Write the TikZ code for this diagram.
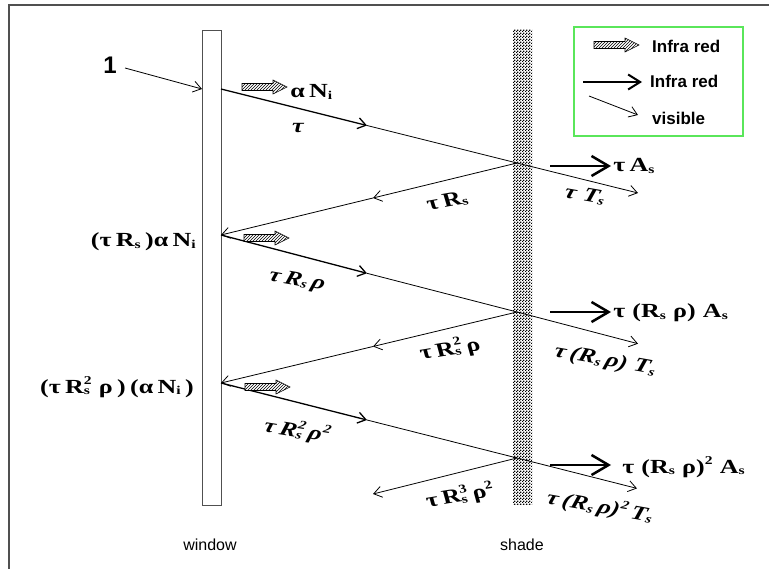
\documentclass[tikz,border=0pt]{standalone}
\usepackage{fontspec}
\setmainfont{Liberation Serif}
\newfontfamily\sansf{Liberation Sans}
\usetikzlibrary{arrows.meta,patterns}
\newcommand\sbsp[2]{\rlap{\raisebox{-1.5pt}{\fontsize{12}{12}\selectfont #1}}\raisebox{8.5pt}{\fontsize{12}{12}\selectfont #2}}
\newcommand\sbonly[1]{\raisebox{-1.5pt}{\fontsize{12}{12}\selectfont #1}}
\newcommand\sponly[1]{\raisebox{8.5pt}{\fontsize{12}{12}\selectfont #1}}
\pgfdeclarepatternformonly{finecheck}{\pgfpointorigin}{\pgfqpoint{3pt}{3pt}}{\pgfqpoint{3pt}{3pt}}{%
  \pgfpathrectangle{\pgfpointorigin}{\pgfqpoint{1.5pt}{1.5pt}}%
  \pgfpathrectangle{\pgfqpoint{1.5pt}{1.5pt}}{\pgfqpoint{1.5pt}{1.5pt}}%
  \pgfusepath{fill}}
\definecolor{legendgreen}{RGB}{90,230,90}
\definecolor{framegray}{RGB}{80,80,80}
\tikzset{
  lab/.style={font=\fontsize{20}{22}\selectfont\bfseries, inner sep=0pt, xscale=1.3},
  ilab/.style={font=\fontsize{20}{22}\selectfont\bfseries\itshape, inner sep=0pt, xscale=1.3},
  sanslab/.style={font=\sansf\fontsize{17}{19}\selectfont\bfseries, inner sep=0pt},
  caption/.style={font=\sansf\fontsize{16}{18}\selectfont, inner sep=0pt},
  ray/.style={line width=0.8pt, -{Straight Barb[length=8pt,width=11pt]}},
  rayb/.style={ray, line width=1.3pt},
  irarrow/.style={line width=2.5pt, -{Straight Barb[length=17pt,width=20pt]}},
  hatcharrow/.pic={
    \fill[white] (0,-3.5)--(31,-3.5)--(31,-7)--(45,0)--(31,7)--(31,3.5)--(0,3.5)--cycle;
    \draw[pattern=north east lines, line width=0.6pt] (0,-3.5)--(31,-3.5)--(31,-7)--(45,0)--(31,7)--(31,3.5)--(0,3.5)--cycle;
  }
}
\begin{document}
\begin{tikzpicture}[x=1pt,y=-1pt]
\useasboundingbox (0,0) rectangle (769,569);
% frame
\draw[framegray, line width=1.5pt] (9,569)--(9,5)--(769,5);
% window and shade
\draw[framegray, line width=1pt, fill=white] (202,31) rectangle (221,505);
\fill[pattern=finecheck] (513,30) rectangle (532,504);
% coordinates
\coordinate (p0) at (125,68);
\coordinate (w1) at (202,89);
\coordinate (a2) at (221,89);
\coordinate (m2) at (367,125.5);
\coordinate (s2) at (517,163);
\coordinate (e2) at (638,193);
\coordinate (r2) at (373,198);
\coordinate (a3) at (221,235);
\coordinate (m3) at (367,273.3);
\coordinate (s3) at (517,312);
\coordinate (e3) at (638,343.7);
\coordinate (r3) at (373,346.5);
\coordinate (a4) at (221,383);
\coordinate (m4) at (367,420);
\coordinate (s4) at (517,458);
\coordinate (e4) at (637,488.4);
\coordinate (r4) at (373,494);
% rays
\draw[ray] (p0) -- (w1);
\draw[rayb] (a2) -- (m2);
\draw[ray] (m2) -- (s2) -- (e2);
\draw[ray] (s2) -- (r2);
\draw[ray] (r2) -- (a3);
\draw[rayb] (a3) -- (m3);
\draw[ray] (m3) -- (s3) -- (e3);
\draw[ray] (s3) -- (r3);
\draw[ray] (r3) -- (a4);
\draw[rayb] (a4) -- (m4);
\draw[ray] (m4) -- (s4) -- (e4);
\draw[ray] (s4) -- (r4);
% IR arrows
\coordinate (i1a) at (550,166); \coordinate (i1b) at (611,166);
\coordinate (i2a) at (550,312); \coordinate (i2b) at (611,312);
\coordinate (i3a) at (550,465); \coordinate (i3b) at (611,465);
\draw[irarrow] (i1a) -- (i1b);
\draw[irarrow] (i2a) -- (i2b);
\draw[irarrow] (i3a) -- (i3b);
% hatched arrows
\pic at (242,87) {hatcharrow};
\pic at (244,238) {hatcharrow};
\pic at (245,387) {hatcharrow};
% labels
\node[font=\sansf\fontsize{24}{26}\selectfont\bfseries, inner sep=0pt] (one) at (110,65) {1};
\node[lab, anchor=west] (aN) at (290,92) {α\,N\sbonly{i}};
\node[ilab] (tau) at (298,128) {τ};
\node[lab, rotate=13] (tRs) at (447,201) {τ\,R\sbonly{s}};
\node[ilab, rotate=-13] (tTs) at (585,195) {τ\;T\sbonly{s}};
\node[lab, anchor=west] (tAs) at (613,166) {τ\,A\sbonly{s}};
\node[lab, anchor=east] (wl2) at (196,242) {(τ\,R\sbonly{s}\,)α\,N\sbonly{i}};
\node[ilab, rotate=-13] (tRsr) at (297,281) {τ\,R\sbonly{s}\,ρ};
\node[lab, anchor=west] (tRrAs) at (613,313) {τ\;(R\sbonly{s}\;ρ)\;A\sbonly{s}};
\node[lab, rotate=12] (tRs2r) at (450,349) {τ\,R\sbsp{s}{2}\,ρ};
\node[ilab, rotate=-13] (tRrTs) at (605,361) {τ\,(R\sbonly{s}\,ρ)\;T\sbonly{s}};
\node[lab, anchor=east] (wl3) at (194,387) {(τ\,R\sbsp{s}{2}\;ρ\,)\,(α\,N\sbonly{i}\,)};
\node[ilab, rotate=-12] (tRs2r2) at (297,431) {τ\,R\sbsp{s}{2}\,ρ\sponly{2}};
\node[lab, anchor=west] (tRr2As) at (622,467) {τ\;(R\sbonly{s}\;ρ)\sponly{2}\;A\sbonly{s}};
\node[lab, rotate=12] (tRs3r2) at (460,496) {τ\,R\sbsp{s}{3}\,ρ\sponly{2}};
\node[ilab, rotate=-13] (tRr2Ts) at (600,507) {τ\,(R\sbonly{s}\,ρ)\sponly{2}\,T\sbonly{s}};
\node[caption] (win) at (210,545) {window};
\node[caption] (sh) at (522,545) {shade};
% legend
\draw[legendgreen, line width=1.5pt] (574,27) rectangle (743,136);
\pic at (594,45) {hatcharrow};
\node[sanslab, anchor=west] (l1) at (652,46) {Infra red};
\coordinate (l2a) at (583,82); \coordinate (l2b) at (642,82);
\draw[line width=2pt, -{Straight Barb[length=12pt,width=15pt]}] (l2a) -- (l2b);
\node[sanslab, anchor=west] (l2) at (650,81) {Infra red};
\coordinate (l3a) at (589,96); \coordinate (l3b) at (638,115);
\draw[ray] (l3a) -- (l3b);
\node[sanslab, anchor=west] (l3) at (652,118) {visible};
\end{tikzpicture}
\end{document}
